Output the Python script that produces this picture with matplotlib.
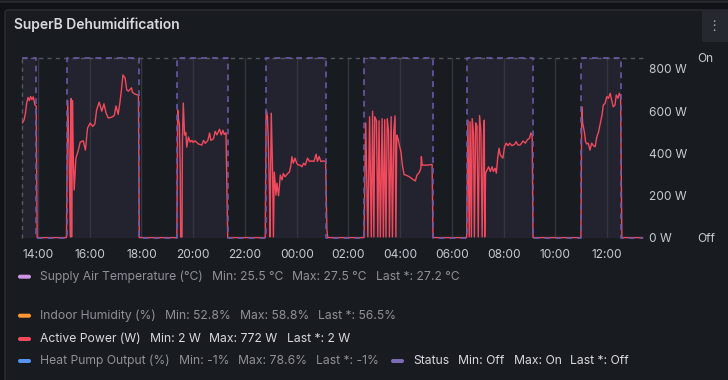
import matplotlib
matplotlib.use("Agg")
import matplotlib.pyplot as plt
import matplotlib.dates as mdates
from matplotlib.patches import FancyBboxPatch
import pandas as pd

plt.rcParams['font.family'] = ['Inter', 'DejaVu Sans']

# Active power (W)
power_time = [
    "13:24", "13:28", "13:31", "13:34", "13:37", "13:40", "13:43", "13:46", "13:49", "13:53", "13:56", "13:58",
    "14:30", "15:06",
    "15:09", "15:12", "15:15", "15:17", "15:18", "15:20", "15:22", "15:24", "15:28", "15:33", "15:38", "15:45",
    "15:50", "15:55", "16:01", "16:07", "16:12", "16:16", "16:22", "16:28", "16:33", "16:38", "16:43", "16:51",
    "16:57", "17:01", "17:06", "17:10", "17:14", "17:17", "17:22", "17:26", "17:30", "17:37", "17:39", "17:45",
    "17:53", "17:55",
    "18:30", "19:22",
    "19:24", "19:26", "19:28", "19:30", "19:31", "19:34", "19:35", "19:37", "19:40", "19:43", "19:45", "19:49",
    "19:53", "19:57", "20:00", "20:04", "20:12", "20:20", "20:24", "20:28", "20:34", "20:38", "20:41", "20:47",
    "20:51", "20:55", "21:01", "21:05", "21:09", "21:12", "21:16", "21:20",
    "22:00", "22:47",
    "22:49", "22:50", "22:52", "22:54", "22:57", "22:58", "23:01", "23:04", "23:06", "23:08", "23:12", "23:14",
    "23:18", "23:22", "23:26", "23:29", "23:33", "23:39", "23:43", "23:46", "23:49", "23:52", "23:56", "00:00",
    "00:04", "00:08", "00:12", "00:16", "00:20", "00:25", "00:30", "00:35", "00:40", "00:45", "00:48", "00:52",
    "00:56", "01:02", "01:07", "01:10", "01:12",
    "02:00", "02:36",
    "02:40", "02:45", "02:49", "02:53", "02:56", "02:59", "03:01", "03:05", "03:08", "03:11", "03:14", "03:18",
    "03:21", "03:24", "03:27", "03:30", "03:33", "03:35", "03:39", "03:42", "03:45", "03:48", "03:50", "03:52",
    "03:55", "03:58", "04:02", "04:05", "04:09", "04:13", "04:21", "04:29", "04:35", "04:39", "04:44", "04:48",
    "04:49", "04:51", "05:02", "05:14", "05:16",
    "06:00", "06:34",
    "06:37", "06:40", "06:42", "06:45", "06:47", "06:50", "06:52", "06:55", "06:58", "07:01", "07:04", "07:07",
    "07:10", "07:13", "07:15", "07:16", "07:18", "07:21", "07:25", "07:29", "07:33", "07:36", "07:40", "07:43",
    "07:46", "07:49", "07:52", "07:58", "08:02", "08:06", "08:10", "08:14", "08:19", "08:25", "08:29", "08:33",
    "08:38", "08:45", "08:50", "08:55", "09:00", "09:03", "09:06", "09:08",
    "10:00", "10:59",
    "11:01", "11:03", "11:07", "11:10", "11:13", "11:16", "11:20", "11:24", "11:28", "11:32", "11:36", "11:40",
    "11:44", "11:48", "11:51", "11:55", "11:59", "12:03", "12:07", "12:11", "12:14", "12:18", "12:21", "12:25",
    "12:28", "12:31", "12:34",
    "13:00", "13:22",
]
power_w = [
    545, 560, 590, 640, 665, 650, 670, 655, 668, 630, 625, 2,
    2, 2,
    650, 420, 5, 660, 5, 650, 380, 227, 378, 410, 454, 460,
    416, 520, 544, 528, 540, 606, 643, 600, 635, 591, 568, 572,
    580, 625, 585, 640, 710, 772, 757, 700, 695, 711, 690, 681,
    676, 2,
    2, 2,
    606, 558, 540, 300, 5, 5, 450, 639, 487, 500, 430, 478,
    454, 462, 452, 460, 445, 440, 462, 448, 462, 497, 462, 470,
    505, 488, 515, 488, 510, 490, 498, 2,
    2, 2,
    574, 600, 574, 473, 203, 5, 591, 330, 5, 312, 203, 260,
    200, 298, 275, 305, 290, 305, 312, 337, 385, 354, 378, 354,
    345, 345, 337, 354, 345, 378, 362, 365, 362, 397, 362, 386,
    362, 365, 362, 40, 2,
    2, 2,
    544, 5, 574, 5, 600, 5, 574, 555, 5, 555, 5, 565,
    5, 560, 5, 565, 505, 5, 574, 5, 505, 578, 5, 487,
    470, 440, 405, 345, 300, 298, 290, 278, 270, 298, 310, 330,
    385, 345, 345, 348, 2,
    2, 2,
    558, 5, 550, 5, 565, 490, 5, 545, 530, 5, 580, 505,
    5, 475, 558, 5, 307, 320, 337, 315, 337, 315, 330, 307,
    378, 425, 393, 378, 432, 449, 437, 449, 437, 443, 456, 440,
    440, 459, 449, 465, 473, 497, 487, 2,
    2, 2,
    621, 544, 503, 454, 445, 449, 416, 449, 437, 432, 479, 503,
    544, 583, 629, 637, 669, 661, 685, 645, 621, 629, 677, 661,
    685, 669, 2,
    2, 2,
]

# Status (1 = On, 0 = Off) change points
status_time = ["13:23", "13:55", "15:07", "17:54", "19:23", "21:20", "22:48", "01:08",
               "02:37", "05:15", "06:35", "09:07", "11:00", "12:32", "13:23"]
status_on = [1, 0, 1, 0, 1, 0, 1, 0, 1, 0, 1, 0, 1, 0, 0]

power_ticks = [0, 200, 400, 600, 800]

legend_names = ["Supply Air Temperature (°C)", "Indoor Humidity (%)", "Active Power (W)",
                "Heat Pump Output (%)", "Status"]
legend_min = ["25.5 °C", "52.8%", "2 W", "-1%", "Off"]
legend_max = ["27.5 °C", "58.8%", "772 W", "78.6%", "On"]
legend_last = ["27.2 °C", "56.5%", "2 W", "-1%", "Off"]
legend_colors = ["#ca95e5", "#ff9830", "#f2495c", "#5794f2", "#7e6bb8"]
legend_active = [False, False, True, False, True]


def to_datetimes(times, start="2024-05-01"):
    day = pd.Timestamp(start)
    out, prev = [], None
    for t in times:
        h, m = map(int, t.split(":"))
        if prev is not None and h * 60 + m < prev:
            day += pd.Timedelta(days=1)
        prev = h * 60 + m
        out.append(day + pd.Timedelta(hours=h, minutes=m))
    return out


pt = to_datetimes(power_time)
st = to_datetimes(status_time)

W, H = 728, 380
fig = plt.figure(figsize=(W / 100, H / 100), dpi=100, facecolor="#111217")


def fx(x):
    return x / W


def fy(y):
    return 1 - y / H


# panel frames (inches, origin bottom-left)
fig.patches.append(FancyBboxPatch((-0.2, (H - 2) / 100), 7.6, 0.3, boxstyle="round,pad=0,rounding_size=0.03",
                                  transform=fig.dpi_scale_trans, facecolor="#181b1f",
                                  edgecolor="#2b2e34", lw=1, zorder=-10))
fig.patches.append(FancyBboxPatch((5 / 100, -0.2), 7.5, (H - 10) / 100 + 0.2,
                                  boxstyle="round,pad=0,rounding_size=0.03",
                                  transform=fig.dpi_scale_trans, facecolor="#181b1f",
                                  edgecolor="#2b2e34", lw=1, zorder=-10))
# menu button
fig.patches.append(FancyBboxPatch((702 / 100, (H - 42) / 100), 0.3, 0.32,
                                  boxstyle="round,pad=0,rounding_size=0.02",
                                  transform=fig.dpi_scale_trans, facecolor="#25282e",
                                  edgecolor="none", zorder=-9))
for yy in (21.5, 26, 30.5):
    fig.text(fx(714), fy(yy), "•", color="#b0b3ba", fontsize=4, ha="center", va="center")

fig.text(fx(14), fy(25), "SuperB Dehumidification", color="#d8d9e0", fontsize=10,
         fontweight="semibold", va="center", ha="left")

ax = fig.add_axes([fx(22), fy(238), (643 - 22) / W, (238 - 58) / H])
ax.set_facecolor("none")
ax2 = ax.twinx()
ax.yaxis.tick_right()

xmin, xmax = st[0], st[-1]
ax.set_xlim(xmin, xmax)
ax.set_ylim(0, 852)
ax2.set_ylim(0, 1)

xt = ax.get_xaxis_transform()
# status fill + dashed step line
ax.fill_between(st, 0, status_on, step="post", transform=xt, color="#7e6bb8", alpha=0.1,
                lw=0, zorder=0.5)
ax.plot([xmin, xmax], [1, 1], transform=xt, color="#55585f", lw=1, dashes=(3, 3), clip_on=False,
        zorder=1)
ax.plot([xmin, xmin], [0, 1], transform=xt, color="#55585f", lw=1, dashes=(3, 3), clip_on=False,
        zorder=1)
ax.plot(pt, power_w, color="#f2495c", lw=1, zorder=2, clip_on=False)
ax.plot(st, status_on, transform=xt, drawstyle="steps-post", color="#6a5aa6", lw=1.2,
        dashes=(3.5, 3), zorder=3, clip_on=False)

ax.xaxis.set_major_locator(mdates.HourLocator(byhour=range(0, 24, 2)))
ax.xaxis.set_major_formatter(mdates.DateFormatter("%H:%M"))
ax.grid(axis="x", color="#33363c", lw=1)
ax.set_axisbelow(True)

ax.set_yticks(power_ticks)
ax.set_yticklabels([f"{v} W" for v in power_ticks])
ax2.set_yticks([0, 1])
ax2.set_yticklabels(["Off", "On"])

for a in (ax, ax2):
    for s in a.spines.values():
        s.set_visible(False)
ax.tick_params(axis="x", length=0, pad=8, labelsize=8.6, labelcolor="#c7c9d1")
ax.tick_params(axis="y", length=0, pad=4, labelsize=8.6, labelcolor="#c7c9d1",
               left=False, labelleft=False, right=False, labelright=True)
ax2.tick_params(axis="y", length=0, pad=39, labelsize=8.6, labelcolor="#c7c9d1")
for lbl in ax2.get_yticklabels():
    lbl.set_horizontalalignment("left")

# legend
renderer = fig.canvas.get_renderer()
rows = [(0, 40, 276.7), (1, 40, 315.7), (2, 40, 339), (3, 40, 361)]
gap = 9


def draw_item(i, x, y):
    fig.patches.append(FancyBboxPatch(((x - 22) / 100, (H - y - 2) / 100), 0.13, 0.04,
                                      boxstyle="round,pad=0,rounding_size=0.02",
                                      transform=fig.dpi_scale_trans,
                                      facecolor=legend_colors[i], edgecolor="none"))
    color = "#d8d9e0" if legend_active[i] else "#8f9098"
    parts = [legend_names[i], f"Min: {legend_min[i]}", f"Max: {legend_max[i]}",
             f"Last *: {legend_last[i]}"]
    for p in parts:
        t = fig.text(fx(x), fy(y), p, color=color, fontsize=8.75, va="center", ha="left")
        bb = t.get_window_extent(renderer)
        x = bb.x1 + gap
    return x


for i, x0, y0 in rows:
    x_end = draw_item(i, x0, y0)
x_end = draw_item(4, x_end + 3 + 22, 361)

fig.savefig("out.png", dpi=100, facecolor=fig.get_facecolor())
